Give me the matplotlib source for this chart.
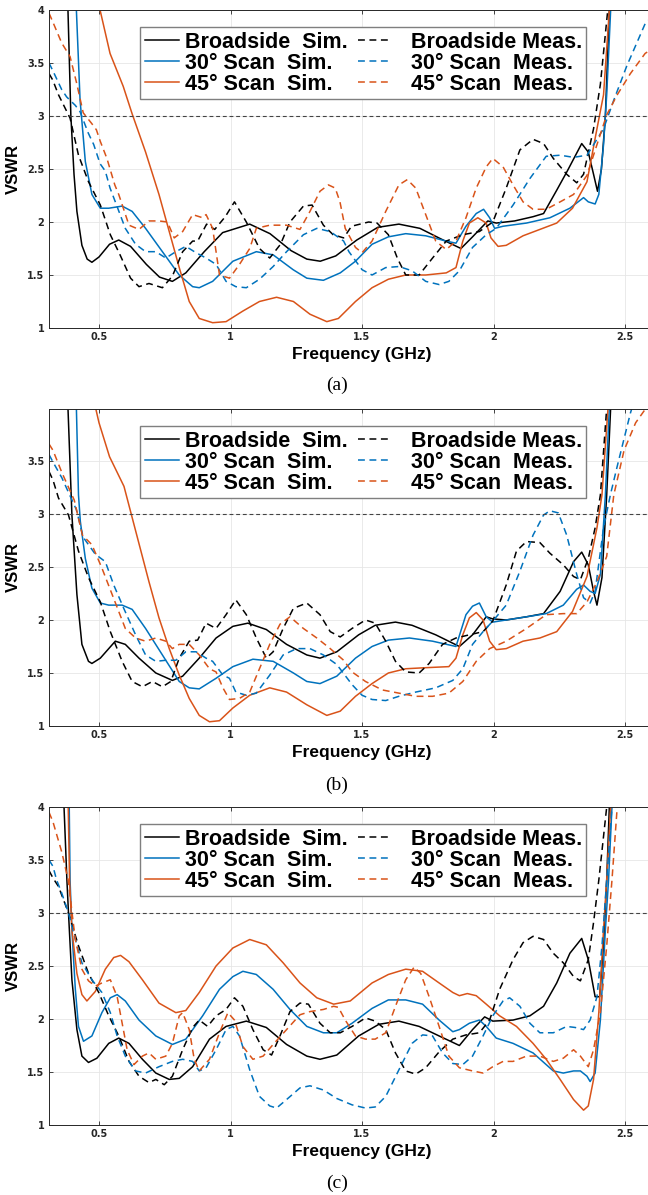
import numpy as np
import matplotlib
matplotlib.use("Agg")
import matplotlib.pyplot as plt
from matplotlib.ticker import FormatStrFormatter

# ---- data: (frequency GHz, VSWR) ----
# panel (a)
a_bs_sim = np.array([(0.372, 4.4), (0.382, 4.0), (0.393, 3.0), (0.405, 2.45), (0.416, 2.1), (0.435, 1.78), (0.455, 1.65), (0.473, 1.62), (0.50, 1.67), (0.54, 1.79), (0.575, 1.83), (0.62, 1.77), (0.68, 1.60), (0.73, 1.48), (0.779, 1.44), (0.83, 1.52), (0.90, 1.72), (0.97, 1.90), (1.073, 1.98), (1.15, 1.89), (1.23, 1.73), (1.29, 1.65), (1.341, 1.63), (1.40, 1.68), (1.48, 1.83), (1.56, 1.95), (1.64, 1.98), (1.72, 1.94), (1.80, 1.84), (1.876, 1.75), (1.92, 1.86), (1.978, 2.01), (2.01, 1.99), (2.08, 2.01), (2.15, 2.05), (2.19, 2.08), (2.24, 2.3), (2.28, 2.48), (2.335, 2.74), (2.36, 2.66), (2.38, 2.45), (2.395, 2.29), (2.41, 2.5), (2.425, 3.0), (2.44, 4.0), (2.45, 4.4)])
a_bs_meas = np.array([(0.31, 3.4), (0.324, 3.34), (0.346, 3.2), (0.37, 3.08), (0.39, 2.98), (0.422, 2.63), (0.46, 2.38), (0.505, 2.16), (0.543, 1.88), (0.58, 1.69), (0.62, 1.47), (0.652, 1.39), (0.69, 1.42), (0.741, 1.38), (0.779, 1.49), (0.818, 1.72), (0.856, 1.82), (0.875, 1.82), (0.909, 1.98), (0.94, 1.93), (0.98, 2.05), (1.015, 2.19), (1.06, 2.0), (1.11, 1.75), (1.149, 1.66), (1.19, 1.79), (1.226, 2.0), (1.277, 2.15), (1.31, 2.16), (1.353, 1.97), (1.39, 1.88), (1.43, 1.85), (1.46, 1.96), (1.525, 2.0), (1.557, 1.99), (1.60, 1.88), (1.634, 1.66), (1.666, 1.50), (1.717, 1.50), (1.768, 1.66), (1.82, 1.82), (1.883, 1.88), (1.946, 1.91), (1.997, 2.0), (2.048, 2.32), (2.10, 2.68), (2.15, 2.78), (2.19, 2.74), (2.227, 2.60), (2.278, 2.45), (2.316, 2.37), (2.342, 2.45), (2.38, 2.88), (2.406, 3.3), (2.434, 4.0), (2.45, 4.4)])
a_30_sim = np.array([(0.405, 4.4), (0.414, 4.0), (0.428, 3.15), (0.435, 2.95), (0.448, 2.57), (0.473, 2.26), (0.505, 2.13), (0.537, 2.13), (0.588, 2.15), (0.626, 2.10), (0.677, 1.94), (0.741, 1.72), (0.805, 1.50), (0.856, 1.39), (0.881, 1.38), (0.932, 1.44), (1.009, 1.63), (1.098, 1.72), (1.162, 1.69), (1.238, 1.55), (1.29, 1.47), (1.353, 1.45), (1.417, 1.52), (1.475, 1.63), (1.538, 1.79), (1.60, 1.86), (1.666, 1.89), (1.742, 1.87), (1.82, 1.82), (1.857, 1.80), (1.895, 1.96), (1.934, 2.08), (1.962, 2.12), (1.985, 2.04), (2.004, 1.94), (2.036, 1.96), (2.125, 1.99), (2.214, 2.04), (2.29, 2.13), (2.342, 2.23), (2.36, 2.19), (2.386, 2.17), (2.40, 2.26), (2.418, 2.73), (2.43, 3.2), (2.445, 4.0), (2.455, 4.4)])
a_30_meas = np.array([(0.31, 3.5), (0.324, 3.43), (0.358, 3.25), (0.377, 3.18), (0.41, 3.1), (0.428, 3.04), (0.459, 2.84), (0.48, 2.73), (0.504, 2.55), (0.524, 2.48), (0.542, 2.32), (0.562, 2.19), (0.60, 1.94), (0.639, 1.79), (0.677, 1.72), (0.716, 1.72), (0.754, 1.66), (0.792, 1.72), (0.83, 1.77), (0.869, 1.71), (0.907, 1.66), (0.945, 1.60), (0.983, 1.44), (1.02, 1.39), (1.06, 1.38), (1.11, 1.46), (1.162, 1.58), (1.213, 1.72), (1.277, 1.88), (1.328, 1.94), (1.379, 1.91), (1.43, 1.82), (1.45, 1.72), (1.50, 1.55), (1.538, 1.50), (1.59, 1.57), (1.64, 1.58), (1.69, 1.54), (1.742, 1.44), (1.793, 1.41), (1.83, 1.44), (1.87, 1.54), (1.92, 1.76), (1.972, 1.88), (2.01, 1.94), (2.074, 2.16), (2.138, 2.41), (2.20, 2.62), (2.253, 2.63), (2.304, 2.61), (2.355, 2.63), (2.418, 2.88), (2.457, 3.15), (2.506, 3.47), (2.576, 3.87), (2.6, 3.93)])
a_45_sim = np.array([(0.495, 4.4), (0.504, 4.0), (0.542, 3.59), (0.592, 3.28), (0.626, 3.02), (0.677, 2.66), (0.728, 2.26), (0.767, 1.91), (0.805, 1.57), (0.843, 1.25), (0.881, 1.09), (0.932, 1.05), (0.983, 1.06), (1.047, 1.16), (1.11, 1.25), (1.175, 1.29), (1.239, 1.25), (1.302, 1.13), (1.366, 1.06), (1.41, 1.09), (1.475, 1.25), (1.538, 1.38), (1.60, 1.46), (1.666, 1.50), (1.742, 1.50), (1.82, 1.52), (1.857, 1.57), (1.883, 1.82), (1.908, 1.99), (1.94, 2.04), (1.972, 1.99), (1.99, 1.85), (2.017, 1.77), (2.048, 1.78), (2.112, 1.87), (2.176, 1.93), (2.24, 1.99), (2.30, 2.13), (2.355, 2.38), (2.393, 2.88), (2.418, 3.2), (2.44, 4.0), (2.45, 4.4)])
a_45_meas = np.array([(0.31, 3.97), (0.324, 3.89), (0.358, 3.69), (0.39, 3.56), (0.415, 3.31), (0.44, 3.03), (0.472, 2.93), (0.49, 2.87), (0.505, 2.76), (0.53, 2.60), (0.56, 2.35), (0.575, 2.26), (0.614, 1.97), (0.652, 1.93), (0.69, 2.01), (0.728, 2.01), (0.76, 2.0), (0.786, 1.85), (0.818, 1.91), (0.856, 2.07), (0.894, 2.04), (0.907, 2.07), (0.932, 1.94), (0.958, 1.50), (0.996, 1.47), (1.034, 1.60), (1.073, 1.75), (1.098, 1.94), (1.149, 1.97), (1.213, 1.97), (1.264, 1.93), (1.302, 2.10), (1.34, 2.29), (1.372, 2.35), (1.398, 2.32), (1.416, 2.19), (1.436, 1.94), (1.475, 1.76), (1.50, 1.71), (1.538, 1.82), (1.59, 2.10), (1.64, 2.35), (1.672, 2.40), (1.704, 2.32), (1.742, 2.07), (1.78, 1.82), (1.82, 1.74), (1.857, 1.82), (1.895, 2.04), (1.934, 2.32), (1.972, 2.52), (1.997, 2.60), (2.036, 2.52), (2.074, 2.35), (2.112, 2.19), (2.15, 2.12), (2.20, 2.12), (2.253, 2.19), (2.304, 2.26), (2.355, 2.44), (2.393, 2.73), (2.43, 3.01), (2.47, 3.2), (2.52, 3.4), (2.576, 3.59), (2.6, 3.63)])

# panel (b)
b_bs_sim = np.array([(0.372, 4.4), (0.382, 4.0), (0.397, 2.99), (0.416, 2.24), (0.435, 1.77), (0.46, 1.61), (0.473, 1.59), (0.505, 1.64), (0.562, 1.80), (0.60, 1.77), (0.652, 1.64), (0.716, 1.50), (0.779, 1.43), (0.818, 1.47), (0.881, 1.64), (0.945, 1.83), (1.009, 1.94), (1.066, 1.97), (1.136, 1.91), (1.213, 1.77), (1.29, 1.67), (1.34, 1.64), (1.404, 1.70), (1.487, 1.86), (1.55, 1.95), (1.627, 1.98), (1.69, 1.95), (1.78, 1.86), (1.87, 1.75), (1.92, 1.86), (1.972, 2.03), (1.997, 2.01), (2.048, 2.0), (2.125, 2.03), (2.19, 2.06), (2.253, 2.27), (2.304, 2.55), (2.335, 2.64), (2.36, 2.52), (2.38, 2.27), (2.393, 2.14), (2.412, 2.40), (2.43, 3.18), (2.445, 4.0), (2.45, 4.4)])
b_bs_meas = np.array([(0.31, 3.4), (0.325, 3.32), (0.346, 3.15), (0.384, 2.99), (0.422, 2.65), (0.46, 2.40), (0.505, 2.17), (0.543, 1.89), (0.588, 1.61), (0.626, 1.42), (0.665, 1.37), (0.703, 1.42), (0.741, 1.37), (0.773, 1.42), (0.805, 1.64), (0.843, 1.80), (0.875, 1.81), (0.907, 1.97), (0.945, 1.92), (0.983, 2.05), (1.02, 2.19), (1.06, 2.05), (1.098, 1.83), (1.136, 1.64), (1.162, 1.70), (1.20, 1.92), (1.239, 2.11), (1.29, 2.16), (1.34, 2.05), (1.379, 1.89), (1.417, 1.84), (1.462, 1.92), (1.513, 2.0), (1.55, 1.97), (1.59, 1.80), (1.627, 1.61), (1.666, 1.51), (1.717, 1.50), (1.755, 1.59), (1.806, 1.77), (1.857, 1.83), (1.908, 1.86), (1.96, 1.89), (1.997, 1.99), (2.048, 2.33), (2.087, 2.65), (2.125, 2.74), (2.176, 2.73), (2.214, 2.63), (2.265, 2.52), (2.304, 2.41), (2.33, 2.38), (2.36, 2.58), (2.386, 2.87), (2.406, 3.18), (2.43, 4.0), (2.44, 4.4)])
b_30_sim = np.array([(0.405, 4.4), (0.414, 4.0), (0.422, 3.18), (0.429, 2.93), (0.448, 2.58), (0.473, 2.30), (0.505, 2.16), (0.537, 2.14), (0.588, 2.14), (0.626, 2.10), (0.677, 1.92), (0.741, 1.67), (0.805, 1.42), (0.843, 1.36), (0.881, 1.35), (0.945, 1.45), (1.009, 1.56), (1.085, 1.63), (1.162, 1.61), (1.239, 1.50), (1.29, 1.42), (1.34, 1.40), (1.404, 1.47), (1.475, 1.64), (1.538, 1.75), (1.60, 1.81), (1.68, 1.83), (1.768, 1.80), (1.857, 1.75), (1.895, 2.05), (1.92, 2.13), (1.946, 2.16), (1.972, 2.03), (1.997, 1.98), (2.048, 2.0), (2.125, 2.03), (2.20, 2.06), (2.265, 2.14), (2.316, 2.29), (2.342, 2.33), (2.367, 2.27), (2.386, 2.25), (2.406, 2.43), (2.425, 3.18), (2.44, 4.0), (2.45, 4.4)])
b_30_meas = np.array([(0.31, 3.56), (0.325, 3.49), (0.359, 3.34), (0.414, 3.04), (0.44, 2.78), (0.486, 2.62), (0.524, 2.55), (0.556, 2.33), (0.594, 2.11), (0.639, 1.86), (0.677, 1.67), (0.716, 1.61), (0.754, 1.62), (0.792, 1.62), (0.83, 1.70), (0.869, 1.70), (0.907, 1.64), (0.932, 1.61), (0.971, 1.48), (0.996, 1.45), (1.02, 1.32), (1.06, 1.29), (1.098, 1.31), (1.149, 1.48), (1.20, 1.67), (1.251, 1.73), (1.302, 1.73), (1.353, 1.67), (1.404, 1.58), (1.462, 1.39), (1.50, 1.29), (1.538, 1.25), (1.59, 1.24), (1.64, 1.28), (1.704, 1.32), (1.78, 1.36), (1.845, 1.43), (1.883, 1.54), (1.92, 1.77), (1.96, 1.89), (1.997, 1.99), (2.048, 2.14), (2.10, 2.46), (2.15, 2.80), (2.19, 2.99), (2.214, 3.03), (2.246, 3.01), (2.278, 2.80), (2.316, 2.43), (2.342, 2.21), (2.367, 2.16), (2.386, 2.27), (2.418, 2.87), (2.444, 3.18), (2.47, 3.45), (2.52, 3.95), (2.55, 4.2)])
b_45_sim = np.array([(0.478, 4.4), (0.487, 4.0), (0.5, 3.86), (0.54, 3.54), (0.595, 3.26), (0.614, 3.08), (0.652, 2.72), (0.69, 2.36), (0.728, 2.02), (0.767, 1.73), (0.805, 1.48), (0.843, 1.26), (0.881, 1.10), (0.92, 1.04), (0.958, 1.05), (1.009, 1.17), (1.073, 1.29), (1.149, 1.36), (1.213, 1.32), (1.29, 1.20), (1.366, 1.10), (1.417, 1.14), (1.475, 1.28), (1.538, 1.40), (1.60, 1.50), (1.666, 1.54), (1.742, 1.55), (1.83, 1.56), (1.857, 1.64), (1.883, 1.86), (1.908, 2.02), (1.934, 2.07), (1.96, 2.0), (1.985, 1.80), (2.01, 1.72), (2.048, 1.73), (2.112, 1.80), (2.176, 1.83), (2.24, 1.89), (2.30, 2.08), (2.355, 2.41), (2.393, 2.87), (2.412, 3.18), (2.435, 4.0), (2.445, 4.4)])
b_45_meas = np.array([(0.31, 3.66), (0.325, 3.60), (0.359, 3.39), (0.406, 3.13), (0.437, 2.80), (0.473, 2.71), (0.511, 2.49), (0.55, 2.24), (0.60, 1.92), (0.639, 1.83), (0.677, 1.80), (0.716, 1.83), (0.754, 1.80), (0.779, 1.73), (0.805, 1.77), (0.843, 1.77), (0.881, 1.67), (0.92, 1.54), (0.945, 1.51), (0.971, 1.36), (0.996, 1.25), (1.034, 1.26), (1.073, 1.32), (1.11, 1.54), (1.149, 1.77), (1.188, 1.96), (1.226, 2.03), (1.277, 1.92), (1.328, 1.83), (1.379, 1.73), (1.43, 1.62), (1.462, 1.51), (1.513, 1.42), (1.577, 1.34), (1.64, 1.31), (1.704, 1.28), (1.768, 1.28), (1.83, 1.31), (1.883, 1.42), (1.934, 1.61), (1.985, 1.73), (2.048, 1.80), (2.125, 1.92), (2.20, 2.05), (2.265, 2.06), (2.316, 2.06), (2.355, 2.17), (2.393, 2.36), (2.43, 2.6), (2.457, 3.18), (2.496, 3.6), (2.54, 3.86), (2.58, 4.0), (2.6, 4.1)])

# panel (c)
c_bs_sim = np.array([(0.362, 4.4), (0.367, 4.0), (0.378, 3.31), (0.384, 3.0), (0.397, 2.37), (0.416, 1.90), (0.435, 1.65), (0.46, 1.59), (0.492, 1.63), (0.537, 1.77), (0.575, 1.82), (0.614, 1.77), (0.665, 1.62), (0.716, 1.49), (0.767, 1.43), (0.805, 1.44), (0.856, 1.55), (0.92, 1.81), (0.983, 1.93), (1.06, 1.98), (1.136, 1.92), (1.213, 1.76), (1.29, 1.65), (1.34, 1.62), (1.404, 1.66), (1.487, 1.84), (1.564, 1.95), (1.64, 1.98), (1.717, 1.93), (1.793, 1.84), (1.87, 1.75), (1.92, 1.90), (1.966, 2.02), (1.997, 1.98), (2.074, 1.99), (2.138, 2.03), (2.19, 2.12), (2.24, 2.34), (2.29, 2.62), (2.335, 2.76), (2.36, 2.56), (2.386, 2.21), (2.403, 2.21), (2.418, 2.69), (2.43, 3.31), (2.44, 4.0), (2.45, 4.4)])
c_bs_meas = np.array([(0.31, 3.4), (0.325, 3.33), (0.346, 3.25), (0.384, 3.0), (0.422, 2.69), (0.46, 2.43), (0.499, 2.25), (0.537, 2.03), (0.575, 1.84), (0.614, 1.60), (0.652, 1.46), (0.69, 1.40), (0.716, 1.43), (0.748, 1.38), (0.779, 1.46), (0.818, 1.71), (0.856, 1.92), (0.881, 1.99), (0.913, 1.93), (0.945, 2.03), (0.983, 2.09), (1.015, 2.20), (1.047, 2.12), (1.085, 1.90), (1.124, 1.71), (1.156, 1.66), (1.188, 1.84), (1.226, 2.07), (1.264, 2.15), (1.296, 2.14), (1.34, 1.96), (1.379, 1.87), (1.417, 1.87), (1.462, 1.93), (1.513, 2.01), (1.55, 1.98), (1.59, 1.90), (1.627, 1.68), (1.666, 1.51), (1.704, 1.48), (1.742, 1.54), (1.793, 1.69), (1.845, 1.81), (1.895, 1.85), (1.946, 1.87), (1.985, 1.99), (2.023, 2.28), (2.074, 2.56), (2.112, 2.72), (2.15, 2.78), (2.19, 2.75), (2.227, 2.62), (2.265, 2.53), (2.304, 2.40), (2.33, 2.36), (2.36, 2.56), (2.38, 2.91), (2.40, 3.31), (2.43, 4.0), (2.44, 4.4)])
c_30_sim = np.array([(0.385, 4.4), (0.39, 3.31), (0.397, 2.84), (0.41, 2.28), (0.422, 1.93), (0.441, 1.79), (0.473, 1.84), (0.511, 2.06), (0.543, 2.20), (0.569, 2.23), (0.60, 2.17), (0.652, 1.99), (0.716, 1.84), (0.779, 1.76), (0.83, 1.81), (0.894, 2.03), (0.958, 2.28), (1.009, 2.40), (1.047, 2.45), (1.098, 2.42), (1.162, 2.28), (1.226, 2.09), (1.29, 1.93), (1.353, 1.87), (1.404, 1.87), (1.462, 1.96), (1.538, 2.10), (1.60, 2.18), (1.666, 2.18), (1.73, 2.14), (1.793, 1.99), (1.845, 1.88), (1.87, 1.90), (1.908, 1.96), (1.946, 1.99), (1.972, 1.93), (2.01, 1.82), (2.074, 1.77), (2.15, 1.68), (2.227, 1.51), (2.265, 1.49), (2.304, 1.51), (2.33, 1.51), (2.355, 1.46), (2.367, 1.41), (2.386, 1.49), (2.406, 1.99), (2.425, 2.84), (2.437, 3.31), (2.45, 4.0), (2.46, 4.4)])
c_30_meas = np.array([(0.31, 3.5), (0.325, 3.44), (0.339, 3.31), (0.358, 3.19), (0.384, 3.0), (0.41, 2.75), (0.435, 2.53), (0.473, 2.37), (0.511, 2.25), (0.543, 2.06), (0.569, 1.84), (0.60, 1.65), (0.639, 1.51), (0.677, 1.49), (0.728, 1.55), (0.779, 1.60), (0.818, 1.62), (0.856, 1.60), (0.881, 1.51), (0.907, 1.54), (0.945, 1.71), (0.983, 1.90), (1.009, 1.93), (1.034, 1.84), (1.073, 1.52), (1.11, 1.27), (1.149, 1.18), (1.175, 1.16), (1.213, 1.24), (1.264, 1.35), (1.302, 1.37), (1.353, 1.33), (1.404, 1.25), (1.462, 1.19), (1.513, 1.16), (1.55, 1.17), (1.59, 1.27), (1.64, 1.52), (1.69, 1.77), (1.73, 1.85), (1.768, 1.84), (1.806, 1.68), (1.845, 1.58), (1.883, 1.57), (1.92, 1.65), (1.96, 1.84), (1.997, 2.03), (2.036, 2.17), (2.061, 2.20), (2.10, 2.12), (2.138, 1.96), (2.176, 1.87), (2.227, 1.87), (2.278, 1.93), (2.31, 1.92), (2.342, 1.90), (2.367, 1.99), (2.393, 2.21), (2.412, 2.69), (2.43, 3.31), (2.45, 4.0), (2.46, 4.4)])
c_45_sim = np.array([(0.378, 4.4), (0.383, 4.0), (0.388, 3.31), (0.397, 2.84), (0.416, 2.43), (0.435, 2.23), (0.454, 2.17), (0.486, 2.26), (0.524, 2.47), (0.556, 2.58), (0.582, 2.60), (0.614, 2.54), (0.665, 2.37), (0.728, 2.15), (0.792, 2.06), (0.83, 2.08), (0.881, 2.25), (0.945, 2.50), (1.009, 2.67), (1.073, 2.75), (1.136, 2.70), (1.2, 2.53), (1.264, 2.34), (1.328, 2.20), (1.392, 2.14), (1.455, 2.17), (1.538, 2.34), (1.60, 2.42), (1.666, 2.47), (1.73, 2.45), (1.793, 2.34), (1.845, 2.25), (1.87, 2.22), (1.90, 2.24), (1.934, 2.22), (1.972, 2.14), (2.023, 2.03), (2.087, 1.93), (2.15, 1.77), (2.20, 1.62), (2.253, 1.43), (2.304, 1.24), (2.342, 1.14), (2.36, 1.18), (2.38, 1.43), (2.40, 2.06), (2.418, 2.84), (2.43, 3.31), (2.445, 4.0), (2.455, 4.4)])
c_45_meas = np.array([(0.31, 3.95), (0.325, 3.86), (0.359, 3.57), (0.383, 3.31), (0.40, 2.95), (0.41, 2.75), (0.435, 2.47), (0.46, 2.36), (0.486, 2.31), (0.511, 2.34), (0.543, 2.37), (0.569, 2.21), (0.588, 1.96), (0.607, 1.71), (0.633, 1.57), (0.665, 1.65), (0.69, 1.68), (0.716, 1.62), (0.754, 1.65), (0.779, 1.77), (0.805, 2.03), (0.818, 2.06), (0.843, 1.90), (0.862, 1.62), (0.881, 1.51), (0.92, 1.62), (0.958, 1.87), (0.99, 2.06), (1.015, 1.99), (1.047, 1.74), (1.085, 1.62), (1.124, 1.65), (1.162, 1.76), (1.213, 1.90), (1.264, 2.04), (1.302, 2.07), (1.353, 2.09), (1.392, 2.12), (1.41, 2.11), (1.436, 1.99), (1.475, 1.84), (1.513, 1.81), (1.55, 1.81), (1.59, 1.87), (1.627, 2.12), (1.666, 2.37), (1.698, 2.49), (1.723, 2.43), (1.755, 2.21), (1.793, 1.93), (1.83, 1.65), (1.87, 1.54), (1.92, 1.51), (1.96, 1.49), (1.997, 1.55), (2.036, 1.60), (2.074, 1.60), (2.125, 1.65), (2.176, 1.65), (2.227, 1.60), (2.265, 1.63), (2.304, 1.71), (2.33, 1.65), (2.36, 1.55), (2.38, 1.71), (2.406, 2.06), (2.43, 2.69), (2.45, 3.31), (2.47, 4.0), (2.48, 4.4)])

sim_labels = ["Broadside  Sim.", "30\u00b0 Scan  Sim.", "45\u00b0 Scan  Sim."]
meas_labels = ["  Broadside Meas.", "  30\u00b0 Scan  Meas.", "  45\u00b0 Scan  Meas."]
captions = ["(a)", "(b)", "(c)"]
y_tops = [4.0, 3.99, 4.0]

BLACK = "#000000"
BLUE = "#0072BD"
ORANGE = "#D95319"

panels = [
    [a_bs_sim, a_30_sim, a_45_sim, a_bs_meas, a_30_meas, a_45_meas],
    [b_bs_sim, b_30_sim, b_45_sim, b_bs_meas, b_30_meas, b_45_meas],
    [c_bs_sim, c_30_sim, c_45_sim, c_bs_meas, c_30_meas, c_45_meas],
]

W, H = 648, 1195
fig = plt.figure(figsize=(W / 100, H / 100), dpi=100)

# axes boxes in pixels (top, bottom)
boxes = [(10, 328), (409, 726), (807, 1125)]
left_px = 48.5

for i, series in enumerate(panels):
    top, bot = boxes[i]
    ax = fig.add_axes([left_px / W, (H - bot) / H, 1 - left_px / W, (bot - top) / H])
    colors = [BLACK, BLUE, ORANGE] * 2
    labels = sim_labels + meas_labels
    for k, pts in enumerate(series):
        if k < 3:
            ax.plot(pts[:, 0], pts[:, 1], color=colors[k], lw=1.1, label=labels[k])
        else:
            ax.plot(pts[:, 0], pts[:, 1], color=colors[k], lw=1.1, dashes=(4.5, 3), label=labels[k])
    ax.axhline(3, color="#444444", lw=0.8, dashes=(3.5, 2.5))

    ax.set_xlim(0.308, 2.587)
    ax.set_ylim(1, y_tops[i])
    ax.set_xticks([0.5, 1, 1.5, 2, 2.5])
    ax.set_yticks([1, 1.5, 2, 2.5, 3, 3.5, 4] if y_tops[i] >= 4 else [1, 1.5, 2, 2.5, 3, 3.5])
    ax.xaxis.set_major_formatter(FormatStrFormatter("%g"))
    ax.yaxis.set_major_formatter(FormatStrFormatter("%g"))
    ax.tick_params(direction="in", length=3, width=0.6, top=True, right=False,
                   labelsize=7, pad=3, colors="#262626")
    for lab in ax.get_xticklabels() + ax.get_yticklabels():
        lab.set_fontweight("bold")
    ax.grid(True, color="#e6e6e6", lw=0.6)
    ax.set_axisbelow(True)
    for s in ["left", "bottom", "top"]:
        ax.spines[s].set_color("#262626")
        ax.spines[s].set_linewidth(0.7)
    ax.spines["right"].set_visible(False)

    ax.set_ylabel("VSWR", fontsize=12, fontweight="bold", family="Liberation Sans")
    ax.yaxis.set_label_coords(-0.046, 0.5)
    ax.set_xlabel("Frequency (GHz)", fontsize=12.5, fontweight="bold", family="Liberation Sans")
    ax.xaxis.set_label_coords(0.523, -0.06)

    leg = ax.legend(ncol=2, loc="upper left", bbox_to_anchor=(0.153, 0.945), borderaxespad=0,
                    prop={"family": "Liberation Sans", "weight": "bold", "size": 15.5},
                    handlelength=1.6, handletextpad=0.3, columnspacing=0.45,
                    labelspacing=0.0, borderpad=0.2, fancybox=False, framealpha=1)
    leg.get_frame().set_edgecolor("#7f7f7f")
    leg.get_frame().set_linewidth(1.0)

cap_y = [385, 785, 1183]
for i, c in enumerate(captions):
    fig.text(337 / W, 1 - cap_y[i] / H, c, ha="center", va="center",
             family="Liberation Serif", fontsize=14)

fig.savefig("out.png", dpi=100)
